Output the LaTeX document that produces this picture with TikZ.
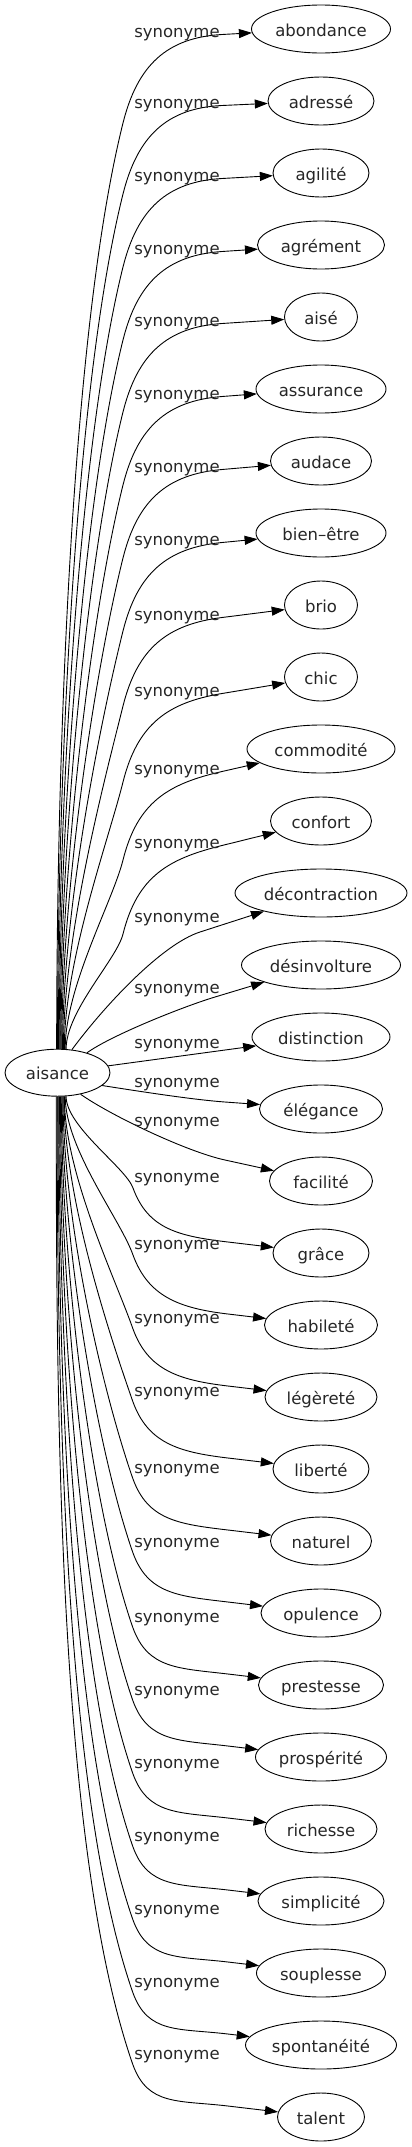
\documentclass[tikz,border=0pt]{standalone}
\usepackage{fontspec}
\setmainfont{DejaVu Sans}
\usetikzlibrary{arrows.meta,calc,shapes.geometric}
\begin{document}
\begin{tikzpicture}[x=1pt,y=-1pt,
  word/.style={ellipse,draw,line width=0.9pt,inner sep=0pt,minimum height=48pt,
    font=\fontsize{16.5}{20}\selectfont,text height=14.5pt,text depth=0.5pt,text=black!85},
  lab/.style={anchor=base,inner sep=0pt,font=\fontsize{16.5}{20}\selectfont,text=black!85},
  edge/.style={line width=0.9pt,-{Triangle[length=13pt,width=9pt]}}]
\useasboundingbox (0,0) rectangle (412,2147);
\node[word,minimum width=105pt,minimum height=47pt] (aisance) at (57.5,1072.7) {aisance};
\foreach \i/\w/\t in {0/139/abondance,1/106/adressé,2/96/agilité,3/127/agrément,4/73/aisé,
  5/130/assurance,6/101/audace,7/130/bien–être,8/73/brio,9/73/chic,10/148/commodité,
  11/101/confort,12/172/décontraction,13/159/désinvolture,14/138/distinction,
  15/123/élégance,16/103/facilité,17/96/grâce,18/113/habileté,19/112/légèreté,
  20/96/liberté,21/101/naturel,22/120/opulence,23/125/prestesse,24/131/prospérité,
  25/112/richesse,26/126/simplicité,27/129/souplesse,28/151/spontanéité,29/87/talent}
  \node[word,minimum width=\w pt] (n\i) at (321,{29+72*\i}) {\t};
% upper edges
\foreach \i/\L/\th in {0/31/92,1/102/90,2/175/88,3/248/86,4/320/84,5/393/82,6/466/80,
  7/539/78,8/614/76,9/690/74,10/768/72,11/842/70}{
  \pgfmathsetmacro\D{1049.5-\L-92}
  \pgfmathsetmacro\ca{0.33*\D}
  \pgfmathsetmacro\cbx{123-0.055*\D}
  \pgfmathsetmacro\cby{\L+92+0.22*\D}
  \coordinate (K\i) at (123,{\L+92});
  \coordinate (E\i) at (222,{\L+3.5});
  \draw[edge] (aisance.\th) .. controls ($(aisance.\th)+(0,-\ca)$) and (\cbx,\cby) .. (K\i)
    .. controls (137.5,{\L+34}) and ($(E\i)!-55pt!(n\i)$) .. (E\i) -- (n\i);
  \node[lab] (l\i) at (177,{\L+6}) {synonyme};
}
% lower edges
\foreach \i/\L/\th in {17/1176/-70,18/1243/-72,19/1317/-74,20/1390/-75.5,21/1467/-77,
  22/1541/-79,23/1616/-81,24/1689/-83,25/1762/-85,26/1835/-87,27/1908/-89,28/1981/-91,
  29/2053/-93}{
  \pgfmathsetmacro\D{\L+12-1096}
  \pgfmathsetmacro\ca{0.33*\D}
  \pgfmathsetmacro\cbx{133-0.077*\D}
  \pgfmathsetmacro\cby{\L+12-0.22*\D}
  \coordinate (K\i) at (133,{\L+12});
  \coordinate (E\i) at (228,{29+72*\i-11});
  \draw[edge] (aisance.\th) .. controls ($(aisance.\th)+(0,\ca)$) and (\cbx,\cby) .. (K\i)
    .. controls (148,{\L+53}) and ($(E\i)!-50pt!(n\i)$) .. (E\i) -- (n\i);
  \node[lab] (l\i) at (177,{\L+6}) {synonyme};
}
% middle edges
\coordinate (E12) at (200,932);
\draw[edge] (aisance.58) .. controls (105,1005) and ($(E12)!-40pt!(n12)$) .. (E12) -- (n12);
\node[lab] (l12) at (177,922) {synonyme};
\coordinate (E13) at (215,997);
\draw[edge] (aisance.34) .. controls (110,1036) and ($(E13)!-35pt!(n13)$) .. (E13) -- (n13);
\node[lab] (l13) at (177,993) {synonyme};
\draw[edge] (aisance) -- (n14);
\node[lab] (l14) at (177,1048) {synonyme};
\coordinate (E15) at (225,1102);
\draw[edge] (aisance.-16) .. controls (150,1093) and ($(E15)!-30pt!(n15)$) .. (E15) -- (n15);
\node[lab] (l15) at (177,1087) {synonyme};
\coordinate (E16) at (225,1160);
\draw[edge] (aisance.-43) .. controls (110,1115) and ($(E16)!-40pt!(n16)$) .. (E16) -- (n16);
\node[lab] (l16) at (177,1126) {synonyme};
\end{tikzpicture}
\end{document}
